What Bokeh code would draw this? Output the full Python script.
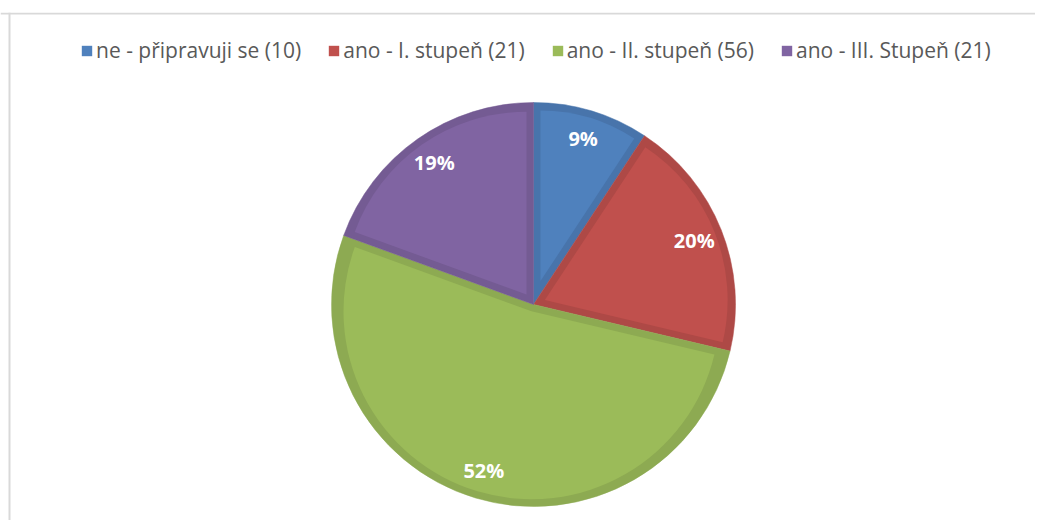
import math
import numpy as np
from bokeh.plotting import figure
from bokeh.models import Range1d, Legend, LegendItem, Span, ColumnDataSource
from bokeh.core.properties import value
from bokeh.embed import file_html
from bokeh.resources import INLINE

# ---- data ----
categories = ["ne - připravuji se (10)", "ano - I. stupeň (21)",
              "ano - II. stupeň (56)", "ano - III. Stupeň (21)"]
counts = [10, 21, 56, 21]
pct_labels = ["9%", "20%", "52%", "19%"]
fill_colors = ["#4F81BD", "#C0504D", "#9BBB59", "#8064A2"]
edge_colors = ["#4874AB", "#AE4946", "#8DAA52", "#745B93"]

W, H = 1035, 520
TOP = 12
FRAME_H = H - TOP

p = figure(width=W, height=H, output_backend="svg", toolbar_location=None,
           x_range=Range1d(0, W), y_range=Range1d(0, FRAME_H),
           min_border_left=0, min_border_right=0, min_border_bottom=0,
           min_border_top=TOP)
p.axis.visible = False
p.grid.visible = False
p.outline_line_color = None
p.background_fill_color = "white"
p.border_fill_color = "white"

# chart area border (top and left)
p.add_layout(Span(location=FRAME_H - 1, dimension="width",
                  line_color="#d9d9d9", line_width=2))
p.add_layout(Span(location=9, dimension="height",
                  line_color="#d9d9d9", line_width=2))

cx, cy = 533.0, H - 304.0
R = 202.0
d = 7.0
label_r = 173.0

total = float(sum(counts))
fr = np.array(counts, dtype=float) / total
ends = np.cumsum(fr) * 2 * math.pi
starts = ends - fr * 2 * math.pi
mids = (starts + ends) / 2
half = (ends - starts) / 2

# outer (border colored) wedges
src_out = ColumnDataSource(dict(
    x=[cx] * 4, y=[cy] * 4,
    sa=list(math.pi / 2 - starts), ea=list(math.pi / 2 - ends),
    c=edge_colors))
p.wedge(x="x", y="y", radius=R, start_angle="sa", end_angle="ea",
        direction="clock", fill_color="c", line_color="c", line_width=0.5,
        source=src_out)

# inset (fill colored) wedges
shift = d / np.sin(half)
ix = cx + shift * np.sin(mids)
iy = cy + shift * np.cos(mids)
ir = R - d - shift
inner_renderers = []
for i in range(4):
    r = p.wedge(x=[ix[i]], y=[iy[i]], radius=ir[i],
                start_angle=math.pi / 2 - starts[i],
                end_angle=math.pi / 2 - ends[i],
                direction="clock", fill_color=fill_colors[i],
                line_color=None)
    inner_renderers.append(r)

# percentage labels
lx = cx + label_r * np.sin(mids)
ly = cy + label_r * np.cos(mids)
p.text(x=list(lx), y=list(ly), text=pct_labels, text_color="white",
       text_font=value("Open Sans"), text_font_style="bold",
       text_font_size="20px", text_align="center", text_baseline="middle")

legend = Legend(items=[LegendItem(label=categories[i], renderers=[inner_renderers[i]])
                       for i in range(4)],
                orientation="horizontal", location=(80, FRAME_H - 52),
                glyph_width=13, glyph_height=13, label_standoff=3,
                spacing=26, padding=0, margin=0,
                label_text_font="Open Sans", label_text_font_size="21px",
                label_text_color="#595959", label_height=20,
                border_line_color=None, background_fill_alpha=0)
p.add_layout(legend, "center")

open("out.html", "w").write(file_html(p, INLINE))
